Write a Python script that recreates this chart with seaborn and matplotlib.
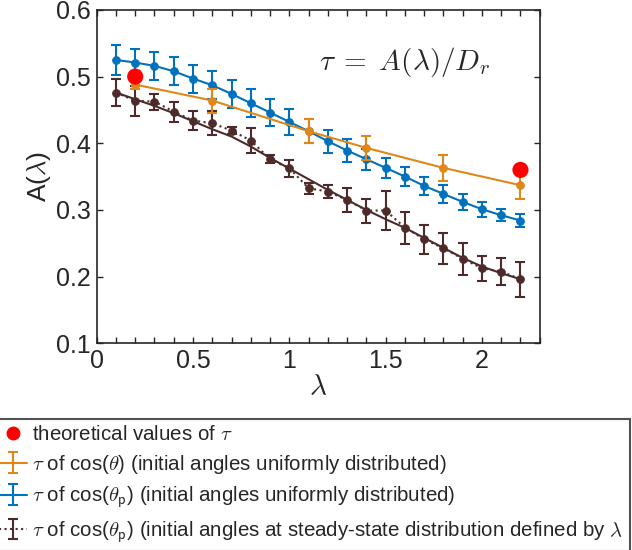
import numpy as np
import matplotlib
matplotlib.use('Agg')
import matplotlib.pyplot as plt
import matplotlib.ticker as ticker
from matplotlib.lines import Line2D
import seaborn as sns

# lambda grid for the cos(theta_p) runs
lam = [0.1, 0.2, 0.3, 0.4, 0.5, 0.6, 0.7, 0.8, 0.9, 1.0, 1.1,
       1.2, 1.3, 1.4, 1.5, 1.6, 1.7, 1.8, 1.9, 2.0, 2.1, 2.2]

# tau of cos(theta_p), uniform initial angles (blue)
blue_vals = [0.525, 0.521, 0.516, 0.508, 0.497, 0.487, 0.474, 0.460, 0.446, 0.432, 0.418,
             0.403, 0.389, 0.376, 0.363, 0.350, 0.336, 0.324, 0.312, 0.301, 0.292, 0.284]
blue_err = [0.022, 0.021, 0.021, 0.021, 0.021, 0.021, 0.021, 0.021, 0.020, 0.019, 0.018,
            0.017, 0.017, 0.016, 0.015, 0.014, 0.014, 0.013, 0.012, 0.011, 0.009, 0.010]

# tau of cos(theta_p), steady-state initial angles (brown, dotted)
brown_vals = [0.476, 0.4635, 0.4625, 0.4475, 0.434, 0.430, 0.419, 0.404, 0.376, 0.3625, 0.3325,
              0.3275, 0.315, 0.299, 0.299, 0.2735, 0.256, 0.2425, 0.2265, 0.2125, 0.2075, 0.196]
brown_err = [0.020, 0.022, 0.012, 0.015, 0.014, 0.018, 0.005, 0.019, 0.006, 0.013, 0.0085,
             0.010, 0.0175, 0.018, 0.029, 0.024, 0.022, 0.0235, 0.024, 0.019, 0.020, 0.026]

# solid brown curve
brown_fit = [0.476, 0.466, 0.456, 0.445, 0.433, 0.421, 0.410, 0.395, 0.378, 0.362, 0.346,
             0.330, 0.315, 0.300, 0.286, 0.273, 0.258, 0.243, 0.228, 0.215, 0.205, 0.196]

# tau of cos(theta), uniform initial angles (orange)
orange_lam = [0.2, 0.6, 1.1, 1.4, 1.8, 2.2]
orange_vals = [0.488, 0.464, 0.418, 0.393, 0.363, 0.337]
orange_err = [0.006, 0.018, 0.018, 0.018, 0.020, 0.021]

# theoretical values
theory_lam = [0.2, 2.2]
theory_vals = [0.500, 0.360]

labels = [
    r'theoretical values of $\tau$',
    r'$\tau$ of cos($\theta$) (initial angles uniformly distributed)',
    r'$\tau$ of cos($\theta_{\mathsf{p}}$) (initial angles uniformly distributed)',
    r'$\tau$ of cos($\theta_{\mathsf{p}}$) (initial angles at steady-state distribution defined by $\lambda$',
]

c_blue = '#0072BD'
c_orange = '#E0871A'
c_brown = '#4E2B2B'
c_red = '#FF0000'
c_axis = '#262626'

sns.set_theme(style='ticks')
plt.rcParams['font.family'] = ['Liberation Sans', 'DejaVu Sans']
plt.rcParams['mathtext.fontset'] = 'cm'

fig = plt.figure(figsize=(6.32, 5.5), dpi=100)
ax = fig.add_axes([0.153, 0.376, 0.701, 0.606])

lw = 1.5
ms = 5.5
eb = dict(fmt='none', elinewidth=1.5, capsize=3.5, capthick=1.5)

# blue
ax.errorbar(lam, blue_vals, yerr=blue_err, ecolor=c_blue, zorder=2, **eb)
sns.lineplot(x=lam, y=blue_vals, ax=ax, color=c_blue, marker='o', markersize=ms,
             markeredgecolor=c_blue, linewidth=lw, zorder=3)

# brown dotted + solid
ax.errorbar(lam, brown_vals, yerr=brown_err, ecolor=c_brown, zorder=2, **eb)
sns.lineplot(x=lam, y=brown_vals, ax=ax, color=c_brown, marker='o', markersize=ms,
             markeredgecolor=c_brown, linewidth=lw, linestyle=':', zorder=3)
sns.lineplot(x=lam, y=brown_fit, ax=ax, color=c_brown, linewidth=lw, zorder=3)

# orange
ax.errorbar(orange_lam, orange_vals, yerr=orange_err, ecolor=c_orange, zorder=4, **eb)
sns.lineplot(x=orange_lam, y=orange_vals, ax=ax, color=c_orange, marker='o', markersize=ms,
             markeredgecolor=c_orange, linewidth=lw, zorder=4)

# theory
sns.scatterplot(x=theory_lam, y=theory_vals, ax=ax, color=c_red, s=135,
                edgecolor='none', zorder=5)

ax.text(1.6, 0.522, r'$\tau\;=\;A(\lambda)/D_r$', fontsize=21, ha='center', va='center')

ax.set_xlim(0, 2.3)
ax.set_ylim(0.1, 0.6)
ax.xaxis.set_major_locator(ticker.MultipleLocator(0.5))
ax.xaxis.set_minor_locator(ticker.MultipleLocator(0.1))
ax.xaxis.set_major_formatter(ticker.FuncFormatter(lambda v, p: f'{v:g}'))
ax.yaxis.set_major_locator(ticker.MultipleLocator(0.1))
ax.yaxis.set_major_formatter(ticker.FuncFormatter(lambda v, p: f'{v:g}'))
ax.tick_params(which='both', direction='in', top=True, right=True, length=4,
               width=1.0, color=c_axis, labelsize=18, labelcolor=c_axis, pad=4)
for s in ax.spines.values():
    s.set_visible(True)
    s.set_color(c_axis)
    s.set_linewidth(1.2)

ax.set_xlabel(r'$\lambda$', fontsize=21, color=c_axis, labelpad=0)
ax.set_ylabel(r'A($\lambda$)', fontsize=19, color=c_axis, labelpad=2)

# legend proxies
h_red = Line2D([], [], marker='o', color=c_red, linestyle='none', markersize=9)
h_or = ax.errorbar([np.nan], [np.nan], yerr=[np.nan], fmt='-', color=c_orange,
                   linewidth=lw, elinewidth=1.5, capsize=3.5, capthick=1.5)
h_bl = ax.errorbar([np.nan], [np.nan], yerr=[np.nan], fmt='-', color=c_blue,
                   linewidth=lw, elinewidth=1.5, capsize=3.5, capthick=1.5)
h_br = ax.errorbar([np.nan], [np.nan], yerr=[np.nan], fmt=':', color=c_brown,
                   linewidth=lw, elinewidth=1.5, capsize=3.5, capthick=1.5)

leg = fig.legend([h_red, h_or, h_bl, h_br], labels, loc='upper left',
                 bbox_to_anchor=(-0.012, 0.238), fontsize=14.8, frameon=True,
                 fancybox=False, edgecolor=c_axis, handlelength=1.4,
                 handletextpad=0.25, labelspacing=0.42, borderpad=0.3,
                 borderaxespad=0)
leg.get_frame().set_linewidth(1.5)
for t in leg.get_texts():
    t.set_color(c_axis)

fig.savefig('out.png', dpi=100)
